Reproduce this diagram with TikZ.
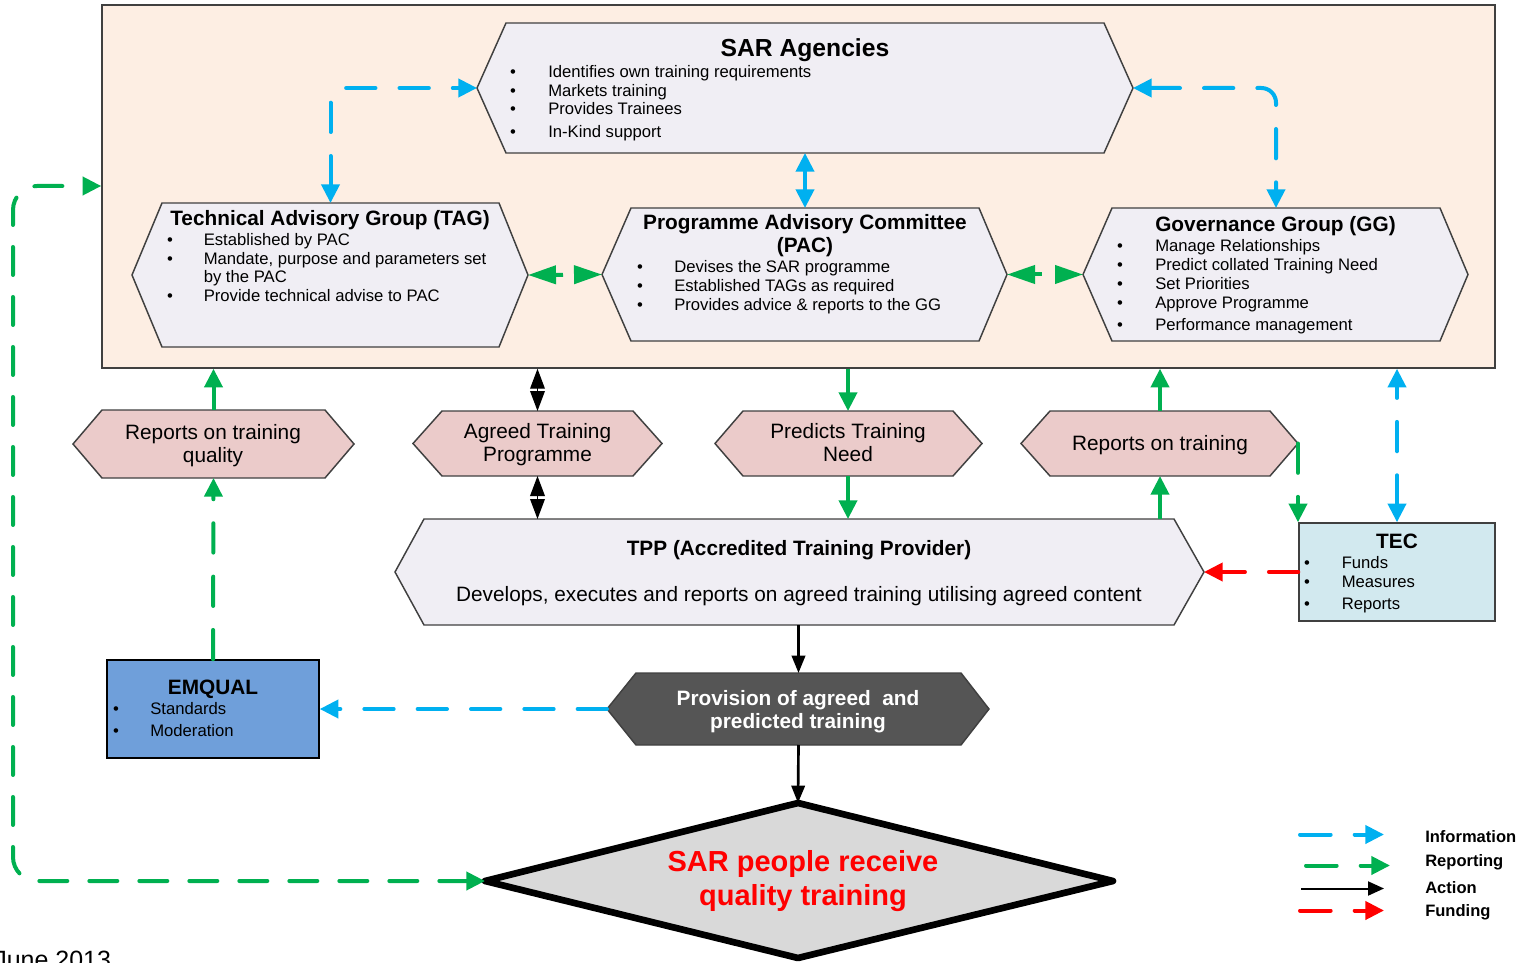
\documentclass[tikz,border=0pt]{standalone}
\usepackage{fontspec}
\setmainfont{Liberation Sans}
\usetikzlibrary{arrows.meta}
\definecolor{panelfill}{HTML}{FDEEE3}
\definecolor{hexfill}{HTML}{F0EEF4}
\definecolor{pinkfill}{HTML}{EBCBCA}
\definecolor{tecfill}{HTML}{D2E9EF}
\definecolor{emqfill}{HTML}{6F9FDA}
\definecolor{provfill}{HTML}{555555}
\definecolor{diafill}{HTML}{D9D9D9}
\definecolor{edgegray}{HTML}{404040}
\definecolor{infoblue}{HTML}{00B0F0}
\definecolor{repgreen}{HTML}{00B050}
\definecolor{fundred}{HTML}{FF0000}

\newcommand\hexshape[8]{%
  \draw[#2] (#3,{(#7+#8)/2}) -- (#4,#7) -- (#5,#7) -- (#6,{(#7+#8)/2}) -- (#5,#8) -- (#4,#8) -- cycle;
  \coordinate (#1-w) at (#3,{(#7+#8)/2});
  \coordinate (#1-e) at (#6,{(#7+#8)/2});
  \coordinate (#1-n) at ({(#4+#5)/2},#7);
  \coordinate (#1-s) at ({(#4+#5)/2},#8);
}
\newcommand\bitem[5]{%
  \node[body] (#1-b) at (#2,#4) {\textbullet};
  \node[body,anchor=west] (#1) at (#3,#4) {#5};
}

\tikzset{
  hexst/.style={draw=edgegray, fill=hexfill, line width=1.1pt, line join=miter},
  pinkst/.style={draw=edgegray, fill=pinkfill, line width=1.1pt},
  provst/.style={draw=edgegray, fill=provfill, line width=1.1pt},
  body/.style={font=\fontsize{12.5}{15}\selectfont, inner sep=0pt, text height=8.95pt, text depth=0pt},
  ttl/.style={font=\fontsize{15.6}{18}\selectfont\bfseries, inner sep=0pt, text height=11.17pt, text depth=0pt},
  bigttl/.style={font=\fontsize{18.5}{22}\selectfont\bfseries, inner sep=0pt, text height=13.25pt, text depth=0pt},
  lbl/.style={font=\fontsize{15.6}{18}\selectfont, inner sep=0pt, text height=11.17pt, text depth=0pt},
  provtxt/.style={font=\fontsize{15.6}{18}\selectfont\bfseries, text=white, inner sep=0pt, text height=11.17pt, text depth=0pt},
  diatxt/.style={font=\fontsize{21.75}{26}\selectfont\bfseries, text=fundred, inner sep=0pt, text height=15.57pt, text depth=0pt},
  legtxt/.style={font=\fontsize{12.4}{15}\selectfont\bfseries, inner sep=0pt, text height=8.88pt, text depth=0pt, anchor=west},
  conn/.style={line width=3pt, >={Triangle[length=14pt,width=13.5pt]}},
  dsh/.style={dash pattern=on 22pt off 18pt, line cap=round},
  info/.style={conn, draw=infoblue},
  rep/.style={conn, draw=repgreen},
  fund/.style={conn, draw=fundred},
  bigrep/.style={line width=3pt, draw=repgreen, >={Triangle[length=21pt,width=13.5pt]}, dash pattern=on 6pt off 20pt},
  act/.style={line width=2pt, draw=black, >={Triangle[length=13pt,width=10pt]}},
  actd/.style={line width=1pt, draw=black, >={Triangle[length=15pt,width=11pt]}},
  boxst/.style={draw=edgegray, line width=1.1pt, inner sep=0pt},
}

\begin{document}
\begin{tikzpicture}[x=0.75pt,y=-0.75pt]
\useasboundingbox (0,0) rectangle (1522,963);

% main panel
\node[boxst, fill=panelfill, minimum width=1044.75pt, minimum height=272.25pt] (panel) at (798.5,186.5) {};

% hexagons
\hexshape{sar}{hexst}{477}{506}{1104}{1133}{23}{153}
\hexshape{tag}{hexst}{132}{162}{499}{528}{203}{347}
\hexshape{pac}{hexst}{602}{631}{979}{1007}{208}{341}
\hexshape{gg}{hexst}{1083}{1112}{1440}{1468}{208}{341}
\hexshape{rq}{pinkst}{73}{102}{325}{354}{410}{478}
\hexshape{atp}{pinkst}{413}{442}{633}{662}{411}{476}
\hexshape{ptn}{pinkst}{715}{743}{953}{982}{411}{476}
\hexshape{rt}{pinkst}{1021}{1050}{1270}{1298}{411}{476}
\hexshape{tpp}{hexst}{395}{424}{1174}{1204}{519}{625}
\hexshape{prov}{provst}{607}{636}{961}{989}{673}{745}

% boxes
\node[boxst, fill=tecfill, minimum width=147pt, minimum height=73.5pt] (tec) at (1397,572) {};
\node[boxst, draw=black, fill=emqfill, minimum width=159pt, minimum height=73.5pt] (emq) at (213,709) {};

% diamond
\coordinate (dia-n) at (798,803);
\coordinate (dia-e) at (1113,881);
\coordinate (dia-s) at (798,958);
\coordinate (dia-w) at (485,881);
\draw[line width=5pt, fill=diafill, line join=round] (dia-n) -- (dia-e) -- (dia-s) -- (dia-w) -- cycle;

% SAR texts
\node[bigttl] (sar-title) at (805,48) {SAR Agencies};
\bitem{sar-i1}{513}{548}{72}{Identifies own training requirements}
\bitem{sar-i2}{513}{548}{91}{Markets training}
\bitem{sar-i3}{513}{548}{109}{Provides Trainees}
\bitem{sar-i4}{513}{548}{131.5}{In-Kind support}

% TAG texts
\node[ttl] (tag-title) at (330,218) {Technical Advisory Group (TAG)};
\bitem{tag-i1}{170}{203.5}{240}{Established by PAC}
\bitem{tag-i2}{170}{203.5}{259}{Mandate, purpose and parameters set}
\node[body,anchor=west] (tag-i2b) at (203.5,277) {by the PAC};
\bitem{tag-i3}{170}{203.5}{296}{Provide technical advise to PAC}

% PAC texts
\node[ttl] (pac-title) at (805,222) {Programme Advisory Committee};
\node[ttl] (pac-title2) at (805,245) {(PAC)};
\bitem{pac-i1}{640}{674}{267}{Devises the SAR programme}
\bitem{pac-i2}{640}{674}{286}{Established TAGs as required}
\bitem{pac-i3}{640}{674}{305}{Provides advice \& reports to the GG}

% GG texts
\node[ttl] (gg-title) at (1275.5,224) {Governance Group (GG)};
\bitem{gg-i1}{1120}{1155}{246}{Manage Relationships}
\bitem{gg-i2}{1120}{1155}{265}{Predict collated Training Need}
\bitem{gg-i3}{1120}{1155}{284}{Set Priorities}
\bitem{gg-i4}{1120}{1155}{303}{Approve Programme}
\bitem{gg-i5}{1120}{1155}{325}{Performance management}

% pink labels
\node[lbl] (rq-t1) at (213,432.5) {Reports on training};
\node[lbl] (rq-t2) at (213,455.5) {quality};
\node[lbl] (atp-t1) at (537.5,431.5) {Agreed Training};
\node[lbl] (atp-t2) at (537.5,454.5) {Programme};
\node[lbl] (ptn-t1) at (848,431.5) {Predicts Training};
\node[lbl] (ptn-t2) at (848,454.5) {Need};
\node[lbl] (rt-t1) at (1160,443.5) {Reports on training};

% TPP
\node[ttl] (tpp-title) at (799,548) {TPP (Accredited Training Provider)};
\node[lbl] (tpp-body) at (799,594) {Develops, executes and reports on agreed training utilising agreed content};

% TEC
\node[ttl] (tec-title) at (1397,541) {TEC};
\bitem{tec-i1}{1307}{1341.5}{562.5}{Funds}
\bitem{tec-i2}{1307}{1341.5}{582}{Measures}
\bitem{tec-i3}{1307}{1341.5}{604}{Reports}

% EMQUAL
\node[ttl] (emq-title) at (213,687) {EMQUAL};
\bitem{emq-i1}{116}{150}{709}{Standards}
\bitem{emq-i2}{116}{150}{731}{Moderation}

% Provision
\node[provtxt] (prov-t1) at (798,698) {Provision of agreed\ \ and};
\node[provtxt] (prov-t2) at (798,721) {predicted training};

% Diamond text
\node[diatxt] (dia-t1) at (803,861.5) {SAR people receive};
\node[diatxt] (dia-t2) at (803,895) {quality training};

% connectors inside panel
\draw[info,dsh,<->,rounded corners=11pt] (tag-n) |- (sar-w);
\draw[info,dsh,<->,rounded corners=11pt] (sar-e) -| (gg-n);
\draw[info,<->] (sar-s) -- (pac-n);
\draw[bigrep,<->] (tag-e) -- (pac-w);
\draw[bigrep,<->] (pac-e) -- (gg-w);

% connectors below panel
\draw[rep,->] (rq-n) -- (rq-n |- panel.south);
\draw[rep,dsh,->] (emq.north) -- (rq-s);
\draw[actd,<->] (atp-n |- panel.south) -- (atp-n);
\draw[actd,<->] (atp-s) -- (atp-s |- tpp-n);
\draw[rep,->] (ptn-n |- panel.south) -- (ptn-n);
\draw[rep,->] (ptn-s) -- (ptn-s |- tpp-n);
\draw[rep,->] (rt-s |- tpp-n) -- (rt-s);
\draw[rep,->] (rt-n) -- (rt-n |- panel.south);
\draw[rep,dsh,->] (rt-e) -- (rt-e |- tec.north);
\draw[info,dsh,<->] (tec.north) -- (tec.north |- panel.south);
\draw[fund,dsh,->] (tec.west) -- (tpp-e);
\draw[info,dsh,->] (prov-w) -- (emq.east);
\draw[act,->] (prov-n |- tpp-s) -- (prov-n);
\draw[act,->] (prov-s) -- (dia-n);

% big loop
\coordinate (loopbl) at (13,881);
\coordinate (looptl) at (13,186);
\draw[rep,dash pattern=on 21pt off 16.5pt,line cap=round,<->,rounded corners=18pt] (dia-w) -- (loopbl) -- (looptl) -- (looptl -| panel.west);

% legend
\coordinate (lgi-a) at (1300,834.5);
\coordinate (lgi-b) at (1384,834.5);
\coordinate (lgr-a) at (1306,865.5);
\coordinate (lgr-b) at (1390,865.5);
\coordinate (lga-a) at (1301,888.5);
\coordinate (lga-b) at (1384,888.5);
\coordinate (lgf-a) at (1300,910.5);
\coordinate (lgf-b) at (1384,910.5);
\draw[info,dash pattern=on 23pt off 18pt,line cap=round,->] (lgi-a) -- (lgi-b);
\draw[rep,dash pattern=on 23pt off 18pt,line cap=round,->] (lgr-a) -- (lgr-b);
\draw[line width=1.5pt,-{Triangle[length=12pt,width=10.5pt]}] (lga-a) -- (lga-b);
\draw[fund,dash pattern=on 23pt off 18pt,line cap=round,->] (lgf-a) -- (lgf-b);
\node[legtxt] (leg-i) at (1425,836.5) {Information};
\node[legtxt] (leg-r) at (1425,861) {Reporting};
\node[legtxt] (leg-a) at (1425,887.5) {Action};
\node[legtxt] (leg-f) at (1425,910.5) {Funding};

% date
\node[font=\fontsize{18.75}{22}\selectfont, inner sep=0pt, anchor=base west] (date) at (-6,968) {June 2013};
\end{tikzpicture}
\end{document}
